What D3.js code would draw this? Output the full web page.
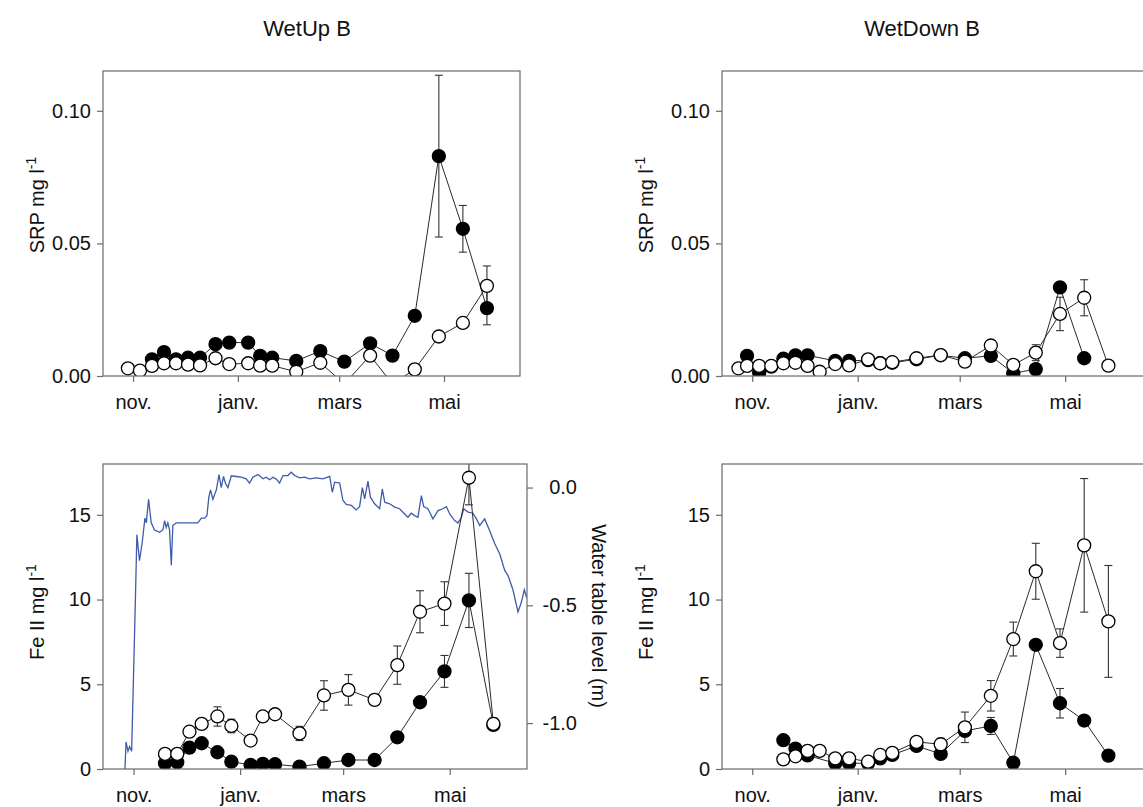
<!DOCTYPE html>
<html><head><meta charset="utf-8">
<script src="https://cdn.jsdelivr.net/npm/d3@7"></script>
<style>
body{margin:0;background:#fff;}
svg text{font-family:"Liberation Sans",Arial,sans-serif;fill:#111;}
</style></head><body>
<svg id="c" width="1143" height="807"></svg>
<script>
// ---------- data ----------
const sampleDates = ["2010-10-24","2010-10-29","2010-11-05","2010-11-12","2010-11-19","2010-11-26","2010-12-03","2010-12-10","2010-12-19","2010-12-27","2011-01-07","2011-01-14","2011-01-21","2011-02-04","2011-02-18","2011-03-04","2011-03-19","2011-04-01","2011-04-14","2011-04-28","2011-05-12","2011-05-26"];
const monthTicks = ["2010-11-01","2011-01-01","2011-03-01","2011-05-01"];
const monthLabels = ["nov.","janv.","mars","mai"];
const srpTicks = [0, 0.05, 0.10];
const srpTickLabels = ["0.00","0.05","0.10"];
const feTicks = [0, 5, 10, 15];
const feTickLabels = ["0","5","10","15"];
const wtTicks = [-1.0, -0.5, 0.0];
const wtTickLabels = ["-1.0","-0.5","0.0"];
const titles = ["WetUp B","WetDown B"];

// SRP WetUp B
const srpUpOpen  = [null,0.0029,0.0020,0.0038,0.0048,0.0048,0.0043,0.0040,0.0067,0.0045,0.0048,0.0039,0.0039,0.0016,0.0050,-0.0030,0.0077,-0.0030,0.0025,0.0149,0.0200,0.0340];
const srpUpOpenErr = [0,0,0,0,0,0,0,0,0,0,0,0,0,0,0,0,0,0,0,0,0,0.0075];
const srpUpFilled = [null,null,null,0.0063,0.0090,0.0063,0.0069,0.0069,0.0120,0.0126,0.0126,0.0076,0.0069,0.0057,0.0094,0.0054,0.0123,0.0077,0.0227,0.0829,0.0555,0.0256];
const srpUpFilledErr = [0,0,0,0,0,0,0,0,0,0,0,0,0,0,0,0,0,0,0,0.0305,0.0088,0.0063];
// SRP WetDown B
const srpDownOpen = [0.0029,0.0038,0.0038,0.0038,0.0048,0.0050,0.0038,0.0016,0.0045,0.0040,0.0063,0.0048,0.0052,0.0067,0.0079,0.0054,0.0115,0.0042,0.0088,0.0234,0.0295,0.0039];
const srpDownOpenErr = [0,0,0,0,0,0,0,0,0,0,0,0,0,0,0,0,0,0,0.0030,0.0063,0.0068,0];
const srpDownFilled = [null,0.0076,0.0013,0.0035,0.0065,0.0078,0.0078,null,0.0057,0.0057,0.0060,0.0048,0.0050,0.0063,0.0078,0.0067,0.0076,0.0010,0.0026,0.0334,0.0067,null];
const srpDownFilledErr = [0,0,0,0,0,0,0,0,0,0,0,0,0,0,0,0,0,0,0,0,0,0];
// Fe II WetUp B
const feUpOpen = [null,null,null,null,0.89,0.89,2.20,2.66,3.10,2.54,1.68,3.10,3.23,2.10,4.34,4.67,4.08,6.13,9.28,9.76,17.19,2.66];
const feUpOpenErr = [0,0,0,0,0,0,0.25,0,0.57,0.40,0,0,0,0.42,0.87,0.90,0.20,1.13,1.24,1.29,1.60,0.35];
const feUpFilled = [null,null,null,null,0.34,0.40,1.26,1.52,0.99,0.43,0.24,0.30,0.28,0.14,0.34,0.53,0.53,1.87,3.94,5.76,9.95,2.60];
const feUpFilledErr = [0,0,0,0,0,0,0,0,0,0,0,0,0,0,0,0,0,0,0,0.94,1.60,0];
// Fe II WetDown B
const feDownOpen = [null,null,null,null,0.57,0.75,1.07,1.07,0.63,0.63,0.43,0.83,0.95,1.60,1.46,2.46,4.32,7.67,11.67,7.43,13.20,8.71];
const feDownOpenErr = [0,0,0,0,0,0,0.30,0,0,0,0,0,0,0.30,0.35,0.90,0.90,1.00,1.65,0.84,3.94,3.30];
const feDownFilled = [null,null,null,null,1.70,1.20,0.80,null,0.34,0.34,0.34,0.63,0.83,1.36,0.89,2.25,2.54,0.37,7.33,3.88,2.86,0.79];
const feDownFilledErr = [0,0,0,0,0,0,0,0,0,0,0,0,0,0,0,0,0.50,0,0,0.87,0,0];
// Water table level (days after 1 Nov 2010, metres)
const wtDay = [-5.7,-4.3,-3.2,-2.3,-1.1,1.0,1.9,3.4,5.0,6.5,7.3,8.6,10.1,12.0,14.9,16.8,17.8,18.7,19.6,20.6,21.6,22.5,24.5,27.3,30.2,34.0,36.8,38.8,40.7,42.0,43.1,44.1,45.4,47.4,48.9,50.2,51.5,52.7,54.0,56.0,58.8,61.7,64.5,66.4,68.3,71.2,74.1,76.0,77.9,79.8,81.7,83.6,85.5,88.4,90.3,92.2,95.1,97.9,100.8,104.6,108.4,112.3,113.8,115.1,118.0,119.9,121.8,124.7,127.5,129.4,131.0,132.3,134.2,135.6,138.0,140.9,142.4,143.8,146.6,149.5,152.3,155.2,157.1,159.0,160.9,162.8,164.8,166.1,168.5,171.4,174.3,177.1,179.1,181.0,183.8,185.7,187.7,189.0,191.5,194.3,196.3,198.2,201.0,203.9,206.8,209.6,212.5,214.4,217.2,220.1,222.1,223.7,225.1];
const wtLevel = [-1.33,-1.08,-1.12,-1.10,-1.12,-0.49,-0.20,-0.31,-0.23,-0.13,-0.15,-0.05,-0.15,-0.18,-0.19,-0.18,-0.14,-0.17,-0.15,-0.18,-0.33,-0.16,-0.15,-0.15,-0.15,-0.15,-0.15,-0.13,-0.13,-0.12,-0.04,-0.01,-0.05,-0.01,0.055,0.00,0.047,0.016,0.00,0.05,0.047,0.044,0.037,0.019,0.044,0.055,0.037,0.044,0.033,0.044,0.036,0.019,0.051,0.051,0.065,0.051,0.041,0.044,0.037,0.041,0.037,0.047,-0.02,0.023,0.019,-0.055,-0.072,-0.076,-0.095,-0.081,0.00,-0.048,0.027,-0.041,-0.069,-0.09,-0.006,-0.062,-0.069,-0.083,-0.09,-0.112,-0.126,-0.109,-0.119,-0.126,-0.034,-0.081,-0.09,-0.133,-0.098,-0.09,-0.081,-0.112,-0.14,-0.151,-0.126,-0.09,-0.104,-0.109,-0.133,-0.161,-0.133,-0.183,-0.239,-0.281,-0.352,-0.374,-0.434,-0.528,-0.485,-0.434,-0.468];

// ---------- drawing ----------
const svg = d3.select("#c");
const parse = d3.timeParse("%Y-%m-%d");
const dates = sampleDates.map(parse);
const tickDates = monthTicks.map(parse);
const nov1 = parse("2010-11-01");
const FRAME = "#6a6a6a", LINE = "#2a2a2a";
const FS = 20;

const panels = [
  {id:0, left:103, right:520, top:71, bottom:376, xDom:[new Date(2010,9,14,12), new Date(2011,5,14,6)],
   yDom:[0,0.115], yTicks:srpTicks, yLabels:srpTickLabels, yTitle:"SRP mg l", titleX:44, titleY:205,
   series:[{v:srpUpFilled,e:srpUpFilledErr,fill:"#000"},{v:srpUpOpen,e:srpUpOpenErr,fill:"#fff"}]},
  {id:1, left:722, right:1146, top:71, bottom:376, xDom:[new Date(2010,9,14,12), new Date(2011,5,16,18)],
   yDom:[0,0.115], yTicks:srpTicks, yLabels:srpTickLabels, yTitle:"SRP mg l", titleX:653, titleY:205,
   series:[{v:srpDownFilled,e:srpDownFilledErr,fill:"#000"},{v:srpDownOpen,e:srpDownOpenErr,fill:"#fff"}]},
  {id:2, left:103, right:527, top:464, bottom:769, xDom:[new Date(2010,9,14,12), new Date(2011,5,14,6)],
   yDom:[0,18], yTicks:feTicks, yLabels:feTickLabels, yTitle:"Fe II mg l", titleX:44, titleY:612, water:true,
   series:[{v:feUpFilled,e:feUpFilledErr,fill:"#000"},{v:feUpOpen,e:feUpOpenErr,fill:"#fff"}]},
  {id:3, left:722, right:1146, top:464, bottom:769, xDom:[new Date(2010,9,14,12), new Date(2011,5,16,18)],
   yDom:[0,18], yTicks:feTicks, yLabels:feTickLabels, yTitle:"Fe II mg l", titleX:653, titleY:612,
   series:[{v:feDownFilled,e:feDownFilledErr,fill:"#000"},{v:feDownOpen,e:feDownOpenErr,fill:"#fff"}]}
];

const defs = svg.append("defs");

panels.forEach(p => {
  const x = d3.scaleTime().domain(p.xDom).range([p.left, p.right]);
  const y = d3.scaleLinear().domain(p.yDom).range([p.bottom, p.top]);
  const g = svg.append("g");
  const cid = "clip" + p.id;
  defs.append("clipPath").attr("id", cid).append("rect")
    .attr("x", p.left).attr("y", p.top).attr("width", p.right - p.left).attr("height", p.bottom - p.top);

  // x axis
  const xa = g.append("g").attr("transform", `translate(0,${p.bottom})`)
    .call(d3.axisBottom(x).tickValues(tickDates).tickFormat((d,i)=>monthLabels[i]).tickSize(6).tickSizeOuter(0).tickPadding(13));
  // y axis
  const ya = g.append("g").attr("transform", `translate(${p.left},0)`)
    .call(d3.axisLeft(y).tickValues(p.yTicks).tickFormat((d,i)=>p.yLabels[i]).tickSize(6).tickSizeOuter(0).tickPadding(6));
  [xa, ya].forEach(a => {
    a.select(".domain").remove();
    a.selectAll(".tick line").attr("stroke", FRAME).attr("stroke-width", 1.2);
    a.selectAll(".tick text").attr("font-size", FS).attr("fill", "#111")
      .style("font-family", '"Liberation Sans",Arial,sans-serif');
  });

  // y title
  const t = g.append("text").attr("transform", `translate(${p.titleX},${p.titleY}) rotate(-90)`)
    .attr("text-anchor", "middle").attr("font-size", FS);
  t.append("tspan").text(p.yTitle);
  t.append("tspan").attr("dy", -8).attr("font-size", 14).text("-1");

  const plot = g.append("g").attr("clip-path", `url(#${cid})`);

  // water table level (right axis)
  if (p.water) {
    const yw = d3.scaleLinear().domain([-1.195, 0.1]).range([p.bottom, p.top]);
    const wa = g.append("g").attr("transform", `translate(${p.right},0)`)
      .call(d3.axisRight(yw).tickValues(wtTicks).tickFormat((d,i)=>wtTickLabels[i]).tickSize(6).tickSizeOuter(0));
    wa.select(".domain").remove();
    wa.selectAll(".tick line").attr("stroke", FRAME).attr("stroke-width", 1.2);
    wa.selectAll(".tick text").attr("font-size", FS).attr("fill", "#111").attr("text-anchor", "end").attr("x", 50)
      .style("font-family", '"Liberation Sans",Arial,sans-serif');
    g.append("text").attr("transform", `translate(592,616) rotate(90)`)
      .attr("text-anchor", "middle").attr("font-size", FS).text("Water table level (m)");
    const wd = wtDay.map((d,i)=>({t:new Date(nov1.getTime() + d*864e5), v:wtLevel[i]}));
    plot.append("path").datum(wd)
      .attr("d", d3.line().x(d=>x(d.t)).y(d=>yw(d.v)))
      .attr("fill", "none").attr("stroke", "#3f5cab").attr("stroke-width", 1.3);
  }

  const sers = p.series.map(s => dates.map((d,i)=>({t:d, v:s.v[i], e:s.e[i]})).filter(d=>d.v !== null));
  sers.forEach(sd => {
    plot.append("path").datum(sd)
      .attr("d", d3.line().x(d=>x(d.t)).y(d=>y(d.v)))
      .attr("fill", "none").attr("stroke", LINE).attr("stroke-width", 1);
  });
  sers.forEach(sd => {
    const eb = plot.append("g").attr("stroke", "#333").attr("stroke-width", 1.1);
    sd.filter(d=>d.e > 0).forEach(d => {
      const cx = x(d.t), y1 = y(d.v + d.e), y0 = y(d.v - d.e);
      eb.append("line").attr("x1", cx).attr("x2", cx).attr("y1", y1).attr("y2", y0);
      eb.append("line").attr("x1", cx-4).attr("x2", cx+4).attr("y1", y1).attr("y2", y1);
      eb.append("line").attr("x1", cx-4).attr("x2", cx+4).attr("y1", y0).attr("y2", y0);
    });
  });
  sers.forEach((sd, k) => {
    plot.append("g").selectAll("circle").data(sd).join("circle")
      .attr("cx", d=>x(d.t)).attr("cy", d=>y(d.v)).attr("r", 6.5)
      .attr("fill", p.series[k].fill).attr("stroke", "#000").attr("stroke-width", 1.3);
  });

  g.append("rect").attr("x", p.left).attr("y", p.top).attr("width", p.right - p.left).attr("height", p.bottom - p.top)
    .attr("fill", "none").attr("stroke", FRAME).attr("stroke-width", 1.2);
});

svg.append("text").attr("x", 307).attr("y", 36).attr("text-anchor", "middle").attr("font-size", 22).text(titles[0]);
svg.append("text").attr("x", 922).attr("y", 36).attr("text-anchor", "middle").attr("font-size", 22).text(titles[1]);
</script>
</body></html>
